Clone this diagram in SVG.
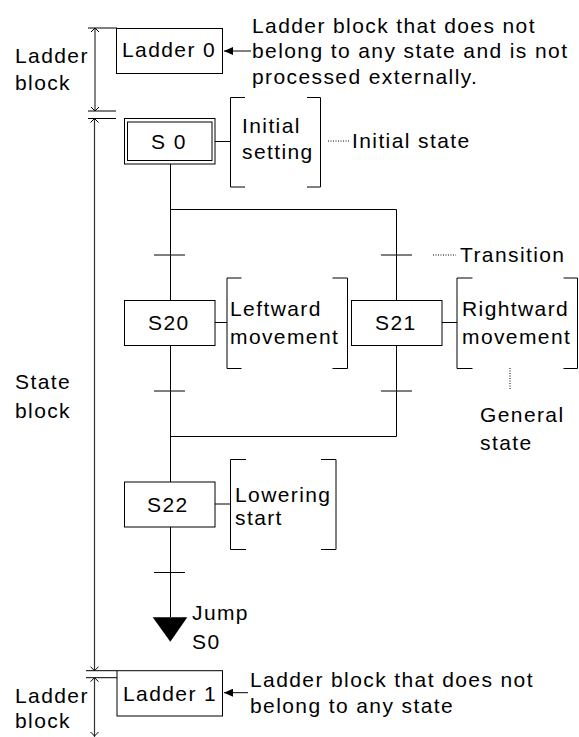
<svg xmlns="http://www.w3.org/2000/svg" width="579" height="737" viewBox="0 0 579 737">
<style>
text{font-family:"Liberation Sans",Arial,sans-serif;font-size:21px;letter-spacing:1.4px;fill:#000}
.ln{stroke:#000;stroke-width:1;fill:none}
.box{stroke:#000;stroke-width:1;fill:#fff}
.dim{stroke:#333;stroke-width:1.2;fill:none}
.dot{stroke:#000;stroke-width:1;stroke-dasharray:1 1.5;fill:none}
</style>
<defs>
<marker id="ah" markerWidth="10" markerHeight="8" refX="9" refY="4" orient="auto" markerUnits="userSpaceOnUse">
<path d="M0,0 L9,4 L0,8 Z" fill="#000"/>
</marker>
</defs>
<rect width="579" height="737" fill="#fff"/>

<g id="dimensions">
<line class="ln" x1="88" y1="28" x2="117" y2="28"/>
<line class="ln" x1="88" y1="111" x2="116" y2="111"/>
<line class="ln" x1="88" y1="118.5" x2="116" y2="118.5"/>
<line class="ln" x1="86" y1="670.7" x2="117" y2="670.7"/>
<line class="ln" x1="86" y1="677.7" x2="117" y2="677.7"/>
<line class="dim" x1="95" y1="28" x2="95" y2="111"/>
<line class="dim" x1="94.5" y1="118.5" x2="94.5" y2="670.7"/>
<line class="dim" x1="94.5" y1="677.7" x2="94.5" y2="737"/>
<path class="ln" d="M91,32 L95,28 L99,32 M91,107 L95,111 L99,107 M90.5,122.5 L94.5,118.5 L98.5,122.5 M90.5,666.7 L94.5,670.7 L98.5,666.7 M90.5,681.7 L94.5,677.7 L98.5,681.7 M90.5,732 L94.5,736 L98.5,732"/>
<text x="15" y="63">Ladder</text>
<text x="15" y="90">block</text>
<text x="15" y="389">State</text>
<text x="15" y="417.5">block</text>
<text x="15" y="702.7">Ladder</text>
<text x="15" y="728.3">block</text>
</g>

<g id="connectors">
<line class="ln" x1="170.5" y1="164" x2="170.5" y2="617"/>
<polyline class="ln" points="170.5,209.5 396.5,209.5 396.5,436.5 170.5,436.5"/>
<line class="ln" x1="154" y1="255" x2="185" y2="255"/>
<line class="ln" x1="381" y1="255" x2="412" y2="255"/>
<line class="ln" x1="154" y1="391" x2="185" y2="391"/>
<line class="ln" x1="381" y1="391" x2="412" y2="391"/>
<line class="ln" x1="154" y1="572.5" x2="185" y2="572.5"/>
<line class="ln" x1="215" y1="141.5" x2="230" y2="141.5"/>
<line class="ln" x1="215" y1="322.5" x2="227" y2="322.5"/>
<line class="ln" x1="441.5" y1="322.5" x2="457" y2="322.5"/>
<line class="ln" x1="215" y1="504" x2="230" y2="504"/>
<line class="ln" x1="251" y1="51" x2="224" y2="51" marker-end="url(#ah)"/>
<line class="ln" x1="248" y1="692.7" x2="224" y2="692.7" marker-end="url(#ah)"/>
<line class="dot" x1="328" y1="141" x2="350" y2="141"/>
<line class="dot" x1="433" y1="255" x2="456" y2="255"/>
<line class="dot" x1="510" y1="368" x2="510" y2="389"/>
<text x="352" y="148.3">Initial state</text>
<text x="460" y="261.5">Transition</text>
<text x="480" y="421.5">General</text>
<text x="480" y="450">state</text>
</g>

<g id="ladder0">
<rect class="box" x="116.5" y="28.5" width="106" height="45"/>
<text x="122" y="57.3">Ladder 0</text>
<text x="252" y="32.5">Ladder block that does not</text>
<text x="252" y="58">belong to any state and is not</text>
<text x="252" y="83.5">processed externally.</text>
</g>

<g id="s0">
<rect class="box" x="124.5" y="118.5" width="90.5" height="45.5"/>
<rect class="box" x="127.5" y="122" width="84.5" height="38.5"/>
<text x="151" y="149.3">S 0</text>
</g>

<g id="initial-setting">
<path class="ln" d="M245,97.5 H230.5 V187 H245 M307,97.5 H320.5 V187 H307"/>
<text x="242" y="133.3">Initial</text>
<text x="242" y="158.5">setting</text>
</g>

<g id="s20">
<rect class="box" x="124.5" y="300.5" width="90.5" height="45"/>
<text x="148" y="329.5">S20</text>
</g>

<g id="leftward">
<path class="ln" d="M241.5,278 H227 V368.5 H241.5 M332.5,278 H347.5 V368.5 H332.5"/>
<text x="230" y="316">Leftward</text>
<text x="230" y="344">movement</text>
</g>

<g id="s21">
<rect class="box" x="351.5" y="300.5" width="90.5" height="45"/>
<text x="375" y="329.5">S21</text>
</g>

<g id="rightward">
<path class="ln" d="M472.5,278 H457 V368.5 H472.5 M563.5,278 H577.5 V368.5 H563.5"/>
<text x="462" y="316">Rightward</text>
<text x="462" y="344">movement</text>
</g>

<g id="s22">
<rect class="box" x="124.5" y="482" width="90.5" height="45"/>
<text x="147" y="511.7">S22</text>
</g>

<g id="lowering">
<path class="ln" d="M246,459.5 H230.5 V549.5 H246 M321,459.5 H336 V549.5 H321"/>
<text x="235" y="501.7">Lowering</text>
<text x="235" y="525">start</text>
</g>

<g id="jump">
<path d="M152.7,617.3 H187.3 L170.3,641.7 Z" fill="#000"/>
<text x="192" y="619.5">Jump</text>
<text x="192" y="649">S0</text>
</g>

<g id="ladder1">
<rect class="box" x="117" y="670.7" width="105.5" height="45.3"/>
<text x="123" y="701">Ladder 1</text>
<text x="250" y="686.7">Ladder block that does not</text>
<text x="250" y="712.7">belong to any state</text>
</g>
</svg>
